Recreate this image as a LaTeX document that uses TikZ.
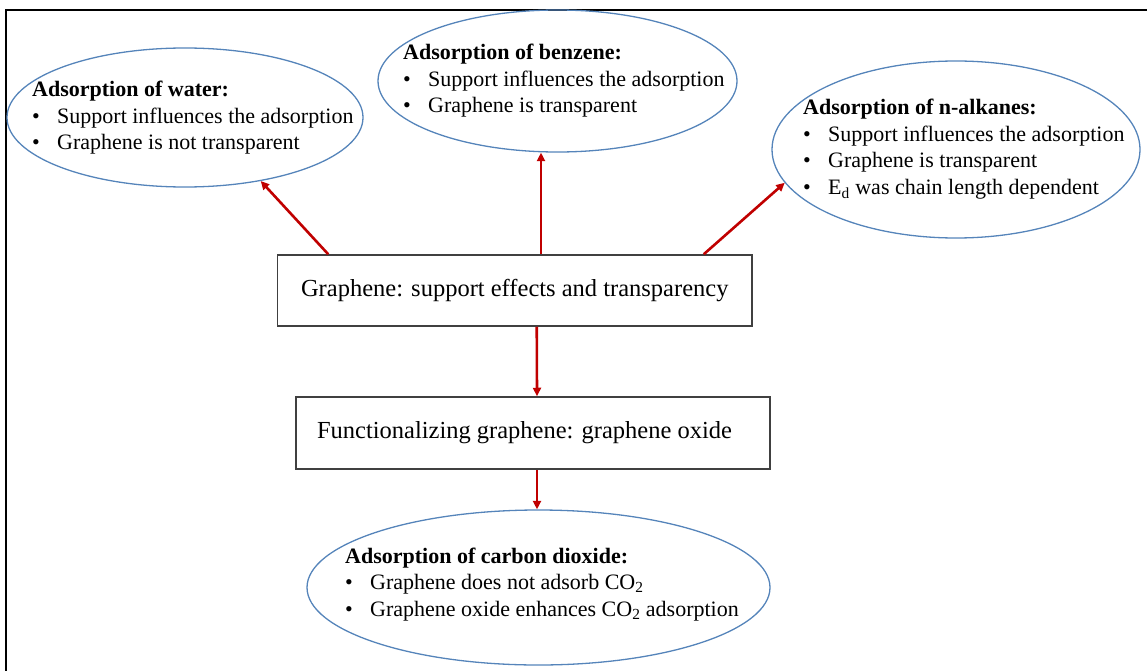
\documentclass[tikz,border=0pt]{standalone}
\usepackage{fontspec}
\setmainfont{Liberation Serif}
\usetikzlibrary{shapes.geometric,arrows.meta,calc}

\definecolor{arrowred}{HTML}{C00000}
\definecolor{bubbleblue}{HTML}{5584BA}

% bullet lists inside the bubbles
\newcommand{\btitle}[1]{\hbox{\bfseries #1}}
\newcommand{\bitem}[1]{\hbox{\makebox[25pt][l]{\textbullet}#1}}

\begin{document}
\begin{tikzpicture}[
  x=1pt, y=-1pt,
  bubble/.style={ellipse, draw=bubbleblue, line width=1.3pt, inner sep=0pt},
  stagebox/.style={rectangle, draw=black!75, line width=1.5pt, inner sep=0pt,
    font=\fontsize{24.5}{29}\selectfont},
  listtext/.style={anchor=base west, inner sep=0pt,
    font=\fontsize{22}{26.5}\selectfont},
  arr/.style={draw=arrowred, line width=2.6pt,
    -{Triangle[length=8.5pt,width=8pt]}},
]
\useasboundingbox (0,0) rectangle (1147,671);
\clip (0,0) rectangle (1147,671);

% outer frame
\draw[line width=2.5pt] (6,10) rectangle (1170,700);

% bubbles
\node[bubble, minimum width=356pt, minimum height=139pt] (water)   at (185,117.5) {};
\node[bubble, minimum width=359pt, minimum height=142pt] (benzene) at (557.5,81) {};
\node[bubble, minimum width=368pt, minimum height=177pt] (alkanes) at (956,149.5) {};
\node[bubble, minimum width=463pt, minimum height=155pt] (co2)     at (538.5,587.5) {};

% bubble texts
\node[listtext] (watertxt) at (32,97) {\vtop{%
  \btitle{Adsorption of water:}%
  \bitem{Support influences the adsorption}%
  \bitem{Graphene is not transparent}}};
\node[listtext] (benzenetxt) at (403,60) {\vtop{%
  \btitle{Adsorption of benzene:}%
  \bitem{Support influences the adsorption}%
  \bitem{Graphene is transparent}}};
\node[listtext] (alkanestxt) at (803,115) {\vtop{%
  \btitle{Adsorption of n-alkanes:}%
  \bitem{Support influences the adsorption}%
  \bitem{Graphene is transparent}%
  \bitem{E\textsubscript{d} was chain length dependent}}};
\node[listtext] (co2txt) at (345,563) {\vtop{%
  \btitle{Adsorption of carbon dioxide:}%
  \bitem{Graphene does not adsorb CO\textsubscript{2}}%
  \bitem{Graphene oxide enhances CO\textsubscript{2} adsorption}}};

% stages
\node[stagebox, minimum width=474.5pt, minimum height=71pt] (box1) at (514.75,290.5)
  {Graphene: support effects and transparency};
\node[stagebox, minimum width=474pt, minimum height=72pt] (box2) at (533,433)
  {\hspace*{-17pt}Functionalizing graphene: graphene oxide};

% connectors
\draw[arr] ($(box1.north west)+(51.5,0)$) -- (water.-40.7);
\draw[arr] ($(box1.north)+(26.25,0)$) -- ($(benzene.south)+(-16.5,0)$);
\draw[arr] ($(box1.north east)+(-49,0)$) -- (alkanes.191.9);
\draw[arr] ($(box1.south)+(22,0)$) -- ($(box2.north)+(4,0)$);
\draw[arr] ($(box2.south)+(4,0)$) -- ($(co2.north)+(-1.5,0)$);
\end{tikzpicture}
\end{document}
